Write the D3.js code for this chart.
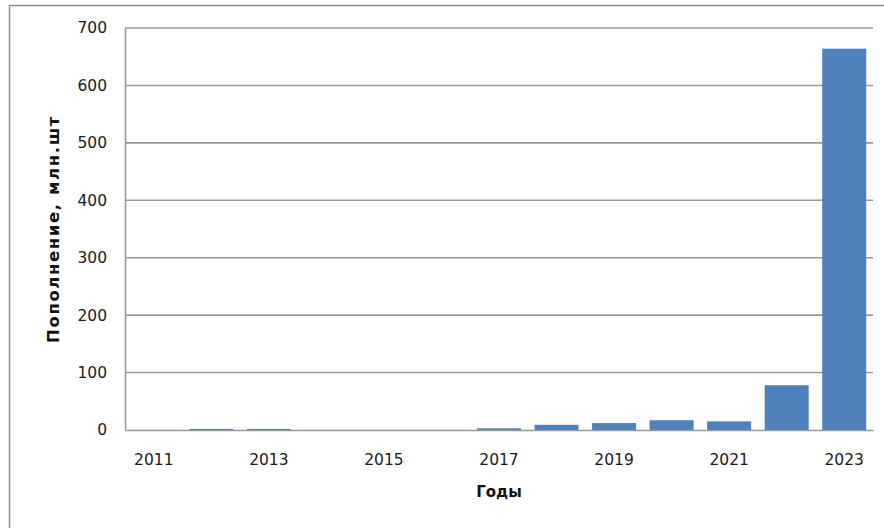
<!DOCTYPE html>
<html><head><meta charset="utf-8">
<script src="https://cdn.jsdelivr.net/npm/d3@7/dist/d3.min.js"></script>
<style>html,body{margin:0;padding:0;background:#fff;overflow:hidden}</style>
</head><body>
<svg id="chart" width="884" height="528"></svg>
<script>
const years = [2011,2012,2013,2014,2015,2016,2017,2018,2019,2020,2021,2022,2023];
const values = [0,2,2,0,0,0,3,9,12,17,15,78,664];
const yTicks = [0,100,200,300,400,500,600,700];
const xTickLabels = [2011,2013,2015,2017,2019,2021,2023];
const xTitle = "Годы";
const yTitle = "Пополнение, млн.шт";

const svg = d3.select("#chart");
const m = {left:125, right:873, top:28, bottom:430};
const font = "'DejaVu Sans', Verdana, sans-serif";

svg.append("rect").attr("x",9.5).attr("y",5.5).attr("width",1000).attr("height",1000)
  .attr("fill","#fff").attr("stroke","#8c8c8c").attr("stroke-width",1.5);

const x = d3.scaleBand().domain(years).range([m.left,m.right]).paddingInner(0.235).paddingOuter(0.1175);
const y = d3.scaleLinear().domain([0,700]).range([m.bottom,m.top]);

// gridlines
svg.append("g").selectAll("line").data(yTicks.filter(d=>d>0)).join("line")
  .attr("x1",m.left).attr("x2",m.right)
  .attr("y1",d=>y(d)).attr("y2",d=>y(d))
  .attr("stroke","#999").attr("stroke-width",1.6);

// bars
svg.append("g").selectAll("rect").data(years).join("rect")
  .attr("x",d=>x(d)).attr("width",x.bandwidth())
  .attr("y",(d,i)=>y(values[i])).attr("height",(d,i)=>Math.max(0,y(0)-y(values[i])))
  .attr("fill","#4f81bd");

// y axis
const yAxis = svg.append("g").attr("transform",`translate(${m.left},0)`)
  .call(d3.axisLeft(y).tickValues(yTicks).tickSize(0).tickPadding(18));
yAxis.select(".domain").attr("stroke","#999").attr("stroke-width",1.6);
yAxis.selectAll("text").attr("font-family",font).attr("font-size",15.5).attr("fill","#1a1a1a");

// x axis
const xAxis = svg.append("g").attr("transform",`translate(0,${m.bottom})`)
  .call(d3.axisBottom(x).tickValues(xTickLabels).tickSize(0).tickPadding(24));
xAxis.select(".domain").attr("stroke","#999").attr("stroke-width",1.6);
xAxis.selectAll("text").attr("font-family",font).attr("font-size",15.5).attr("fill","#1a1a1a");

svg.append("text").attr("x",(m.left+m.right)/2).attr("y",497)
  .attr("text-anchor","middle").attr("font-family",font).attr("font-weight","bold")
  .attr("font-size",15).attr("fill","#111").text(xTitle);

svg.append("text").attr("transform",`translate(59,${(m.top+m.bottom)/2}) rotate(-90)`)
  .attr("text-anchor","middle").attr("font-family",font).attr("font-weight","bold")
  .attr("font-size",16.5).attr("letter-spacing",1.6).attr("fill","#111").text(yTitle);
</script>
</body></html>
